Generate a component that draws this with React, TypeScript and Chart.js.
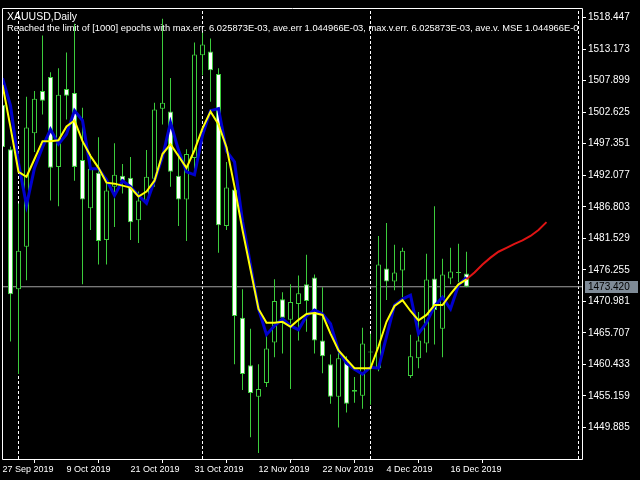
import React, { useEffect, useRef } from 'react';
import { Chart, registerables } from 'chart.js';

Chart.register(...registerables);

const symbolTitle = 'XAUUSD,Daily';
const statusLine =
  'Reached the limit of [1000] epochs with max.err. 6.025873E-03, ave.err 1.044966E-03, max.v.err. 6.025873E-03, ave.v. MSE 1.044966E-0';

// x-axis date labels and the bar index they sit on
const dateLabels = ['27 Sep 2019', '9 Oct 2019', '21 Oct 2019', '31 Oct 2019', '12 Nov 2019', '22 Nov 2019', '4 Dec 2019', '16 Dec 2019'];
const dateLabelBars = [0, 8, 16, 24, 32, 40, 48, 56];
// month period separators (bar index)
const separatorBars = [2, 25, 46, 72];

const priceTicks = [1518.447, 1513.173, 1507.899, 1502.625, 1497.351, 1492.077, 1486.803, 1481.529, 1476.255, 1470.981, 1465.707, 1460.433, 1455.159, 1449.885];
const priceMin = 1444.611;
const priceMax = 1520.048;
const lastPrice = 1473.42;
const barMin = -0.0625;
const barMax = 72.4375;

const opens = [1503.87, 1496.44, 1473.0, 1480.1, 1499.08, 1506.18, 1508.49, 1493.47, 1506.51, 1505.85, 1494.63, 1486.54, 1492.48, 1481.26, 1490.17, 1491.99, 1491.66, 1484.56, 1487.86, 1491.49, 1503.21, 1502.72, 1491.99, 1488.02, 1494.96, 1512.13, 1512.79, 1508.99, 1483.57, 1489.68, 1468.22, 1460.29, 1455.01, 1457.32, 1464.09, 1471.35, 1467.89, 1470.53, 1473.83, 1474.99, 1464.42, 1460.46, 1455.01, 1460.95, 1456.17, 1455.17, 1462.44, 1459.8, 1476.47, 1474.32, 1476.14, 1458.48, 1461.45, 1463.92, 1474.82, 1466.4, 1474.82, 1475.81, 1475.65];
const highs = [1507.5, 1496.9, 1487.36, 1505.19, 1506.18, 1515.43, 1509.32, 1509.98, 1512.62, 1517.41, 1503.38, 1495.62, 1498.42, 1491.0, 1497.43, 1493.97, 1495.12, 1489.35, 1496.28, 1504.2, 1518.23, 1508.33, 1496.11, 1496.44, 1514.27, 1515.92, 1514.93, 1509.98, 1494.3, 1490.34, 1473.0, 1466.4, 1460.46, 1465.91, 1474.66, 1472.51, 1473.83, 1475.32, 1478.78, 1475.48, 1473.33, 1462.11, 1462.6, 1461.78, 1458.31, 1466.57, 1465.58, 1481.92, 1484.07, 1480.43, 1479.94, 1465.41, 1469.21, 1478.95, 1486.87, 1478.12, 1479.94, 1480.6, 1479.28];
const lows = [1495.62, 1464.26, 1458.81, 1474.49, 1495.95, 1502.22, 1487.86, 1486.87, 1501.4, 1491.16, 1473.83, 1482.91, 1477.13, 1477.13, 1483.4, 1489.01, 1481.26, 1480.76, 1487.36, 1490.17, 1500.57, 1490.17, 1483.57, 1481.09, 1493.14, 1508.82, 1504.37, 1479.11, 1482.91, 1460.46, 1456.17, 1448.24, 1445.6, 1456.66, 1461.61, 1462.27, 1456.33, 1464.42, 1465.91, 1462.27, 1458.97, 1453.86, 1449.89, 1452.37, 1454.02, 1453.03, 1453.69, 1459.3, 1471.19, 1472.84, 1471.68, 1458.15, 1459.8, 1462.44, 1463.76, 1461.61, 1473.83, 1474.16, 1473.33];
const closes = [1496.78, 1472.18, 1479.44, 1500.07, 1504.86, 1504.53, 1493.31, 1505.52, 1505.36, 1493.47, 1488.02, 1493.14, 1481.09, 1489.51, 1492.15, 1491.16, 1484.23, 1487.86, 1491.82, 1503.05, 1504.2, 1492.65, 1488.02, 1495.62, 1512.29, 1513.94, 1509.65, 1483.73, 1490.01, 1468.55, 1458.81, 1455.67, 1456.33, 1463.1, 1471.02, 1468.22, 1470.86, 1472.34, 1471.02, 1464.42, 1461.78, 1455.01, 1461.45, 1453.86, 1455.84, 1463.92, 1462.6, 1477.13, 1474.32, 1475.81, 1479.44, 1461.78, 1464.42, 1474.65, 1469.54, 1475.48, 1475.98, 1475.73, 1473.42];

// network fit (blue) and smoothed output (yellow)
const fitLine = [1508.33, 1503.71, 1494.13, 1487.04, 1493.31, 1496.77, 1499.75, 1497.27, 1498.92, 1502.88, 1501.23, 1493.14, 1493.14, 1491.33, 1488.69, 1491.16, 1490.17, 1488.69, 1487.37, 1491.16, 1495.12, 1500.9, 1496.28, 1492.65, 1492.15, 1498.76, 1502.88, 1503.21, 1496.11, 1494.3, 1484.39, 1477.13, 1469.7, 1465.41, 1466.9, 1468.05, 1466.9, 1466.24, 1468.55, 1469.54, 1468.88, 1467.23, 1462.77, 1460.62, 1459.63, 1458.81, 1459.96, 1459.8, 1465.08, 1470.36, 1471.35, 1472.01, 1465.58, 1467.39, 1470.2, 1471.68, 1469.7, 1473.67, 1474.99];
const smoothLine = [1507.17, 1500.08, 1492.65, 1491.82, 1494.79, 1497.77, 1497.77, 1497.93, 1500.24, 1501.23, 1497.77, 1495.29, 1493.31, 1490.83, 1490.67, 1490.34, 1490.01, 1488.52, 1489.35, 1491.16, 1495.62, 1497.27, 1495.29, 1493.31, 1496.28, 1499.91, 1502.72, 1500.57, 1496.77, 1490.17, 1482.91, 1476.31, 1469.7, 1467.39, 1467.39, 1467.56, 1466.73, 1467.89, 1468.88, 1469.04, 1468.71, 1465.58, 1462.77, 1461.28, 1459.8, 1459.8, 1459.8, 1463.43, 1467.56, 1470.2, 1471.19, 1469.37, 1467.8, 1468.71, 1470.36, 1470.36, 1472.18, 1473.83, 1474.66];
// forecast (red), starting at the last bar
const forecastStart = 58;
const forecast = [1474.66, 1475.81, 1477.13, 1478.29, 1479.28, 1479.94, 1480.6, 1481.17, 1481.92, 1482.91, 1484.23];

const CANDLE_GREEN = '#3ccc3c';
const FONT = 'Liberation Sans, Arial, sans-serif';

export default function App() {
  const canvasRef = useRef<HTMLCanvasElement | null>(null);

  useEffect(() => {
    const canvas = canvasRef.current;
    if (!canvas) return;

    const wicks = highs.map((h, i) => ({ x: i, y: [lows[i], h] }));
    const bodies = opens.map((o, i) => ({ x: i, y: [Math.min(o, closes[i]), Math.max(o, closes[i])] }));
    const bodyFill = opens.map((o, i) => (closes[i] < o ? '#ffffff' : '#000000'));

    const framePlugin = {
      id: 'mtFrame',
      beforeDraw(chart: any) {
        const ctx = chart.ctx;
        ctx.save();
        ctx.fillStyle = '#000000';
        ctx.fillRect(0, 0, chart.width, chart.height);
        ctx.restore();
      },
      afterDraw(chart: any) {
        const ctx = chart.ctx;
        const a = chart.chartArea;
        const yScale = chart.scales.y;
        ctx.save();
        // frame
        ctx.strokeStyle = '#ffffff';
        ctx.lineWidth = 1;
        ctx.beginPath();
        ctx.moveTo(a.left + 0.5, a.top + 0.5);
        ctx.lineTo(a.right + 0.5, a.top + 0.5);
        ctx.lineTo(a.right + 0.5, a.bottom + 0.5);
        ctx.lineTo(a.left + 0.5, a.bottom + 0.5);
        ctx.closePath();
        ctx.stroke();
        // texts
        ctx.beginPath();
        ctx.rect(a.left + 1, a.top + 1, a.right - a.left - 1, a.bottom - a.top - 1);
        ctx.clip();
        ctx.fillStyle = '#ffffff';
        ctx.textBaseline = 'alphabetic';
        ctx.textAlign = 'left';
        ctx.font = `10.5px ${FONT}`;
        ctx.fillText(symbolTitle, a.left + 5, a.top + 11.5);
        ctx.font = `9.35px ${FONT}`;
        ctx.fillText(statusLine, a.left + 5, a.top + 23);
        ctx.restore();
        // last price label
        const py = Math.round(yScale.getPixelForValue(lastPrice));
        ctx.save();
        ctx.fillStyle = '#7f8b97';
        ctx.fillRect(a.right + 3, py - 6, 53, 12);
        ctx.fillStyle = '#000000';
        ctx.font = `10px ${FONT}`;
        ctx.textBaseline = 'middle';
        ctx.textAlign = 'left';
        ctx.fillText(lastPrice.toFixed(3), a.right + 6, py + 0.5);
        ctx.restore();
      },
    };

    const separatorSets = separatorBars.map((b) => ({
      type: 'line' as const,
      data: [
        { x: b, y: priceMin },
        { x: b, y: priceMax },
      ],
      borderColor: '#ffffff',
      borderWidth: 1,
      borderDash: [3, 2],
      pointRadius: 0,
      order: 10,
    }));

    const chart = new Chart(canvas, {
      type: 'bar',
      data: {
        datasets: [
          {
            type: 'line',
            data: smoothLine.map((v, i) => ({ x: i, y: v })),
            borderColor: '#ffff00',
            borderWidth: 2,
            pointRadius: 0,
            tension: 0,
            order: 0,
          },
          {
            type: 'line',
            data: forecast.map((v, i) => ({ x: forecastStart + i, y: v })),
            borderColor: '#e01414',
            borderWidth: 2,
            pointRadius: 0,
            tension: 0,
            order: 0,
          },
          {
            type: 'line',
            data: fitLine.map((v, i) => ({ x: i, y: v })),
            borderColor: '#0000cd',
            borderWidth: 3,
            pointRadius: 0,
            tension: 0,
            order: 1,
          },
          {
            type: 'bar',
            data: bodies as any,
            backgroundColor: bodyFill,
            borderColor: CANDLE_GREEN,
            borderWidth: 1,
            borderSkipped: false,
            minBarLength: 1,
            maxBarThickness: 5,
            grouped: false,
            order: 2,
          },
          {
            type: 'bar',
            data: wicks as any,
            backgroundColor: CANDLE_GREEN,
            borderWidth: 0,
            maxBarThickness: 1,
            grouped: false,
            order: 3,
          },
          {
            type: 'line',
            data: [
              { x: barMin, y: lastPrice },
              { x: barMax, y: lastPrice },
            ],
            borderColor: '#a0a0a0',
            borderWidth: 1,
            pointRadius: 0,
            order: 9,
          },
          ...separatorSets,
        ] as any,
      },
      options: {
        animation: false,
        responsive: false,
        devicePixelRatio: 1,
        events: [],
        layout: { padding: { left: 2, top: 2, right: 0, bottom: 0 }, autoPadding: false },
        plugins: {
          legend: { display: false },
          tooltip: { enabled: false },
          title: { display: false },
        },
        scales: {
          x: {
            type: 'linear',
            position: 'bottom',
            min: barMin,
            max: barMax,
            offset: false,
            afterBuildTicks: (s: any) => {
              s.ticks = dateLabelBars.map((v) => ({ value: v }));
            },
            afterFit: (s: any) => {
              s.height = 21;
            },
            ticks: {
              color: '#ffffff',
              font: { family: FONT, size: 9 },
              align: 'start',
              padding: 1,
              maxRotation: 0,
              autoSkip: false,
              callback: (_v: any, idx: number) => dateLabels[idx],
            },
            grid: { drawOnChartArea: false, color: '#ffffff', tickLength: 4, lineWidth: 1 },
            border: { display: false },
          },
          y: {
            type: 'linear',
            position: 'right',
            min: priceMin,
            max: priceMax,
            afterBuildTicks: (s: any) => {
              s.ticks = priceTicks.map((v) => ({ value: v }));
            },
            afterFit: (s: any) => {
              s.width = 58;
            },
            ticks: {
              color: '#ffffff',
              font: { family: FONT, size: 10 },
              padding: 2,
              autoSkip: false,
              callback: (v: any) => Number(v).toFixed(3),
            },
            grid: { drawOnChartArea: false, color: '#ffffff', tickLength: 4, lineWidth: 1 },
            border: { display: false },
          },
        },
      } as any,
      plugins: [framePlugin],
    });

    return () => chart.destroy();
  }, []);

  return (
    <div style={{ position: 'fixed', left: 0, top: 0, width: 640, height: 480, background: '#000' }}>
      <canvas ref={canvasRef} width={640} height={480} style={{ display: 'block', width: 640, height: 480 }} />
    </div>
  );
}
